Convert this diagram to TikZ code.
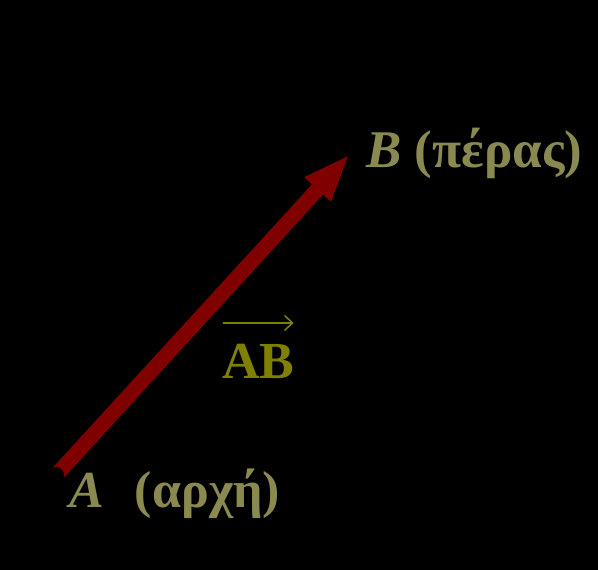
\documentclass[tikz,border=0pt]{standalone}
\usepackage{fontspec}
\setmainfont{Liberation Serif}
\usepackage{xcolor}
\usetikzlibrary{arrows.meta,calc}
\definecolor{vecred}{HTML}{800000}
\definecolor{khaki}{HTML}{8A8A50}
\definecolor{olivetext}{HTML}{808000}
\tikzset{endlabel/.style={anchor=base west,inner sep=0pt,text=khaki,font=\fontsize{52}{60}\selectfont\bfseries}}

\begin{document}
\begin{tikzpicture}[x=1pt,y=-1pt]
        % Background
        \fill[black] (0,0) rectangle (598,570);
        \useasboundingbox (0,0) rectangle (598,570);

        % Vector from A to B
        \coordinate (tail) at (58.5,472.5);
        \coordinate (tip) at (350,154);
        \draw[vecred,line width=15pt,-{Triangle[length=48pt,width=32pt]}] (tail) -- (tip);
        \fill[black] ($(tail)!-3.5pt!(tip)$) circle (8pt);

        % End labels
        \node[endlabel,font=\fontsize{53}{60}\selectfont\bfseries] (B) at (366,167) {\textit{B} (πέρας)};
        \node[endlabel] (A) at (69,507) {\textit{A}\hspace{31pt}(αρχή)};

        % Name of the vector
        \node[endlabel,text=olivetext] (AB) at (222,378) {AB};
        \coordinate (ABl) at ($(AB.north west)+(0.5,-20.5)$);
        \coordinate (ABr) at ($(AB.north east)+(-1,-20.5)$);
        \draw[olivetext,line width=1.5pt,-{Straight Barb[length=8pt,width=15pt]}] (ABl) -- (ABr);
    \end{tikzpicture}
\end{document}
